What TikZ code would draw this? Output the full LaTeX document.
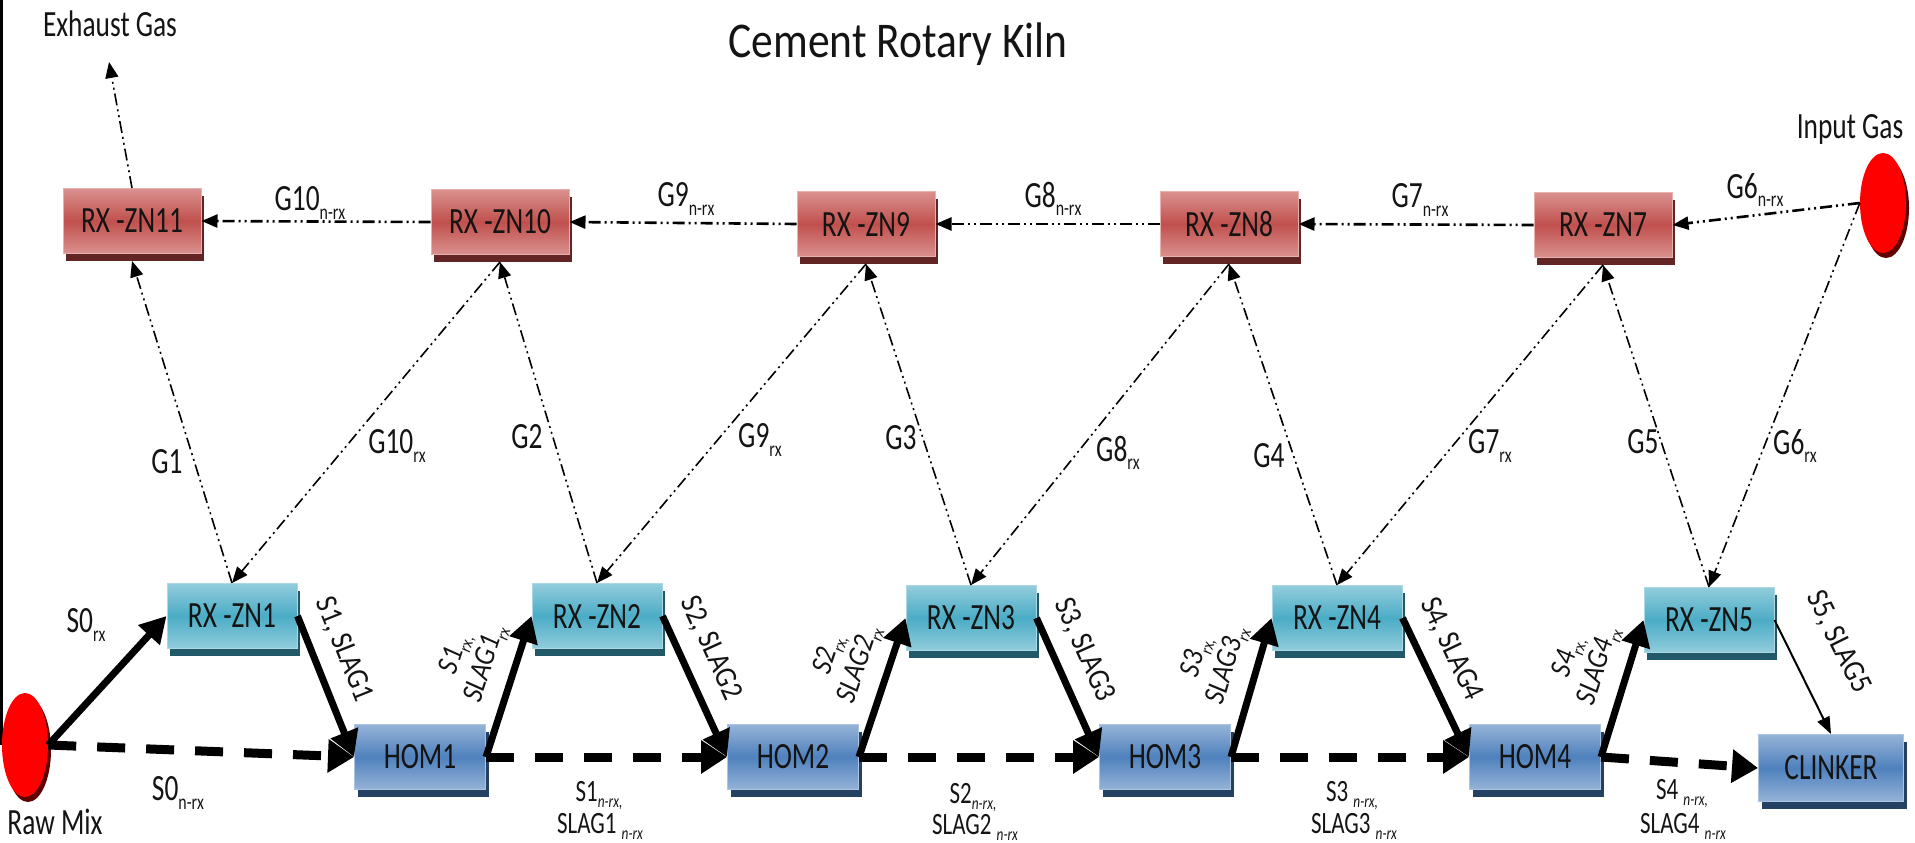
\documentclass[tikz,border=0pt]{standalone}
\usepackage{fontspec}
\usepackage{graphicx}
\setmainfont{Carlito}[FakeStretch=0.74]
\newfontfamily\titlefont{Carlito}[FakeStretch=0.87]
\newfontfamily\slopefont{Carlito}[FakeStretch=0.88]
\usetikzlibrary{arrows.meta,shapes.geometric,shadows}

% lowered small index, e.g. G8_rx
\newcommand\lo[1]{\raisebox{-0.22em}{\scalebox{0.58}{#1}}}

\definecolor{redM}{RGB}{192,80,77}
\definecolor{redL}{RGB}{218,145,143}
\definecolor{redE}{RGB}{230,178,176}
\definecolor{redS}{RGB}{99,37,35}
\definecolor{cyM}{RGB}{75,172,198}
\definecolor{cyL}{RGB}{146,205,220}
\definecolor{cyE}{RGB}{172,216,228}
\definecolor{cyS}{RGB}{33,89,104}
\definecolor{blM}{RGB}{79,129,189}
\definecolor{blL}{RGB}{149,179,215}
\definecolor{blE}{RGB}{172,196,226}
\definecolor{blS}{RGB}{36,64,98}
\definecolor{srcS}{RGB}{96,0,0}
\definecolor{inkc}{RGB}{20,20,20}

\tikzset{
  zone/.style={rectangle, inner sep=0pt, minimum height=65pt, line width=1pt,
    text=inkc, font=\fontsize{37}{40}\selectfont},
  redzone/.style={zone, minimum width=138pt, draw=redE,
    top color=redL, bottom color=redL, middle color=redM,
    drop shadow={shadow xshift=3pt, shadow yshift=-7pt, opacity=1, fill=redS}},
  cyanzone/.style={zone, minimum width=130pt, draw=cyE,
    top color=cyL, bottom color=cyL, middle color=cyM,
    drop shadow={shadow xshift=3pt, shadow yshift=-7pt, opacity=1, fill=cyS}},
  homzone/.style={zone, minimum width=131pt, draw=blE,
    top color=blL, bottom color=blL, middle color=blM,
    drop shadow={shadow xshift=3pt, shadow yshift=-7pt, opacity=1, fill=blS}},
  source/.style={ellipse, minimum width=46pt, minimum height=104pt, inner sep=0pt,
    fill=red, drop shadow={shadow xshift=3pt, shadow yshift=-5pt, opacity=1, fill=srcS}},
  solidflow/.style={line width=7pt, -{Triangle[length=26pt,width=28pt]}},
  dashflow/.style={line width=9pt, dash pattern=on 28pt off 21pt,
    -{Triangle[length=26pt,width=32pt]}},
  thinflow/.style={line width=2pt, -{Triangle[length=17pt,width=13pt]}},
  gasflow/.style={line width=1.6pt,
    dash pattern=on 12pt off 4pt on 2pt off 4pt on 2pt off 4pt,
    -{Triangle[length=16pt,width=13pt]}},
  gasrow/.style={gasflow, line width=2.6pt},
  lab/.style={inner sep=0pt, text=inkc, font=\fontsize{37}{40}\selectfont},
  pairlab/.style={inner sep=0pt, text=inkc, anchor=base,
    font=\fontsize{31}{35}\selectfont},
  downlab/.style={sloped, above=15pt, inner sep=0pt, text=inkc,
    font=\slopefont\fontsize{31}{33}\selectfont},
  uplab/.style={sloped, above=12pt, inner sep=0pt, text=inkc, align=center,
    font=\slopefont\itshape\fontsize{30}{32}\selectfont},
}

\begin{document}
\begin{tikzpicture}[x=1pt, y=-1pt]
\useasboundingbox (0,0) rectangle (1915,843);

% frame line on the left
\draw[line width=3pt] (1.5,0) -- (1.5,745);

% title and end labels
\node[lab, anchor=base] (title) at (898,58)
  {\titlefont\fontsize{50}{52}\selectfont Cement Rotary Kiln};
\node[lab, anchor=base] (exhaust) at (110,37) {Exhaust Gas};
\node[lab, anchor=base] (inlabel) at (1850,139) {Input Gas};
\node[lab, anchor=base] (rawlabel) at (55,834) {Raw Mix};

% gas-side reaction zones
\node[redzone] (z11) at (132,221) {RX -ZN11};
\node[redzone] (z10) at (500,222) {RX -ZN10};
\node[redzone] (z9)  at (866,224) {RX -ZN9};
\node[redzone] (z8)  at (1229,224) {RX -ZN8};
\node[redzone] (z7)  at (1603,225) {RX -ZN7};

% solid-side reaction zones
\node[cyanzone] (z1) at (232,616) {RX -ZN1};
\node[cyanzone] (z2) at (597,616) {RX -ZN2};
\node[cyanzone] (z3) at (971,618) {RX -ZN3};
\node[cyanzone] (z4) at (1337,618) {RX -ZN4};
\node[cyanzone] (z5) at (1709,620) {RX -ZN5};

% mixers and product
\node[homzone] (h1) at (420,757) {HOM1};
\node[homzone] (h2) at (793,757) {HOM2};
\node[homzone] (h3) at (1165,757) {HOM3};
\node[homzone] (h4) at (1535,757) {HOM4};
\node[homzone, minimum width=145pt, minimum height=67pt] (clk) at (1831,768) {CLINKER};

% feeds
\node[source] (raw) at (25,745) {};
\node[source, minimum height=100pt] (inp) at (1883,203) {};

% points just under the shadows of the upper zones
\coordinate (z11b) at ([yshift=-7pt]z11.south);
\coordinate (z10b) at ([yshift=-7pt]z10.south);
\coordinate (z9b)  at ([yshift=-7pt]z9.south);
\coordinate (z8b)  at ([yshift=-7pt]z8.south);
\coordinate (z7b)  at ([yshift=-7pt]z7.south);
\coordinate (exhaustend) at (109,62);

% gas path along the top
\draw[gasflow] (z11.north) -- (exhaustend);
\draw[gasrow] (z10.west) -- (z11.east);
\draw[gasrow] (z9.west) -- (z10.east);
\draw[gasrow] (z8.west) -- (z9.east);
\draw[gasrow] (z7.west) -- (z8.east);
\draw[gasrow] (inp.west) -- (z7.east);

% gas exchange between the two rows
\draw[gasflow] (z1.north) -- (z11b);
\draw[gasflow] (z10b) -- (z1.north);
\draw[gasflow] (z2.north) -- (z10b);
\draw[gasflow] (z9b) -- (z2.north);
\draw[gasflow] (z3.north) -- (z9b);
\draw[gasflow] (z8b) -- (z3.north);
\draw[gasflow] (z4.north) -- (z8b);
\draw[gasflow] (z7b) -- (z4.north);
\draw[gasflow] (z5.north) -- (z7b);
\draw[gasflow] (inp.west) -- (z5.north);

% solid path
\draw[solidflow] (raw.east) -- (z1.west);
\draw[dashflow] (raw.east) -- (h1.west);

\draw[solidflow] (z1.east) -- node[downlab, pos=0.32] (d1) {S1, SLAG1} (h1.west);
\draw[solidflow] (h1.east) -- node[uplab, pos=0.6] (u1) {S1\lo{rx,}\\SLAG1\lo{rx}} (z2.west);
\draw[dashflow] (h1.east) -- (h2.west);

\draw[solidflow] (z2.east) -- node[downlab, pos=0.32] (d2) {S2, SLAG2} (h2.west);
\draw[solidflow] (h2.east) -- node[uplab, pos=0.6] (u2) {S2\lo{rx,}\\SLAG2\lo{rx}} (z3.west);
\draw[dashflow] (h2.east) -- (h3.west);

\draw[solidflow] (z3.east) -- node[downlab, pos=0.32] (d3) {S3, SLAG3} (h3.west);
\draw[solidflow] (h3.east) -- node[uplab, pos=0.6] (u3) {S3\lo{rx,}\\SLAG3\lo{rx}} (z4.west);
\draw[dashflow] (h3.east) -- (h4.west);

\draw[solidflow] (z4.east) -- node[downlab, pos=0.32] (d4) {S4, SLAG4} (h4.west);
\draw[solidflow] (h4.east) -- node[uplab, pos=0.6] (u4) {S4\lo{rx,}\\SLAG4\lo{rx}} (z5.west);
\draw[dashflow] (h4.east) -- (clk.west);

\draw[thinflow] (z5.east) -- node[downlab, pos=0.38, above=19pt] (d5) {S5, SLAG5} (clk.north);

% gas labels
\node[lab] (g10n) at (310,203) {G10\lo{n-rx}};
\node[lab] (g9n)  at (686,199) {G9\lo{n-rx}};
\node[lab] (g8n)  at (1053,199) {G8\lo{n-rx}};
\node[lab] (g7n)  at (1420,200) {G7\lo{n-rx}};
\node[lab] (g6n)  at (1755,190) {G6\lo{n-rx}};

\node[lab] (g1)   at (167,462) {G1};
\node[lab] (g10r) at (397,446) {G10\lo{rx}};
\node[lab] (g2)   at (527,437) {G2};
\node[lab] (g9r)  at (760,440) {G9\lo{rx}};
\node[lab] (g3)   at (901,438) {G3};
\node[lab] (g8r)  at (1118,453) {G8\lo{rx}};
\node[lab] (g4)   at (1269,456) {G4};
\node[lab] (g7r)  at (1490,446) {G7\lo{rx}};
\node[lab] (g5)   at (1643,442) {G5};
\node[lab] (g6r)  at (1795,446) {G6\lo{rx}};

% solid labels
\node[lab] (s0r) at (86,625) {S0\lo{rx}};
\node[lab] (s0n) at (178,793) {S0\lo{n-rx}};
\node[pairlab] (s1a) at (599,801) {S1\lo{\itshape n-rx,}};
\node[pairlab] (s1b) at (600,833) {SLAG1 \lo{\itshape n-rx}};
\node[pairlab] (s2a) at (973,803) {S2\lo{\itshape n-rx,}};
\node[pairlab] (s2b) at (975,834) {SLAG2 \lo{\itshape n-rx}};
\node[pairlab] (s3a) at (1352,801) {S3 \lo{\itshape n-rx,}};
\node[pairlab] (s3b) at (1354,833) {SLAG3 \lo{\itshape n-rx}};
\node[pairlab] (s4a) at (1682,799) {S4 \lo{\itshape n-rx,}};
\node[pairlab] (s4b) at (1683,833) {SLAG4 \lo{\itshape n-rx}};
\end{tikzpicture}
\end{document}
